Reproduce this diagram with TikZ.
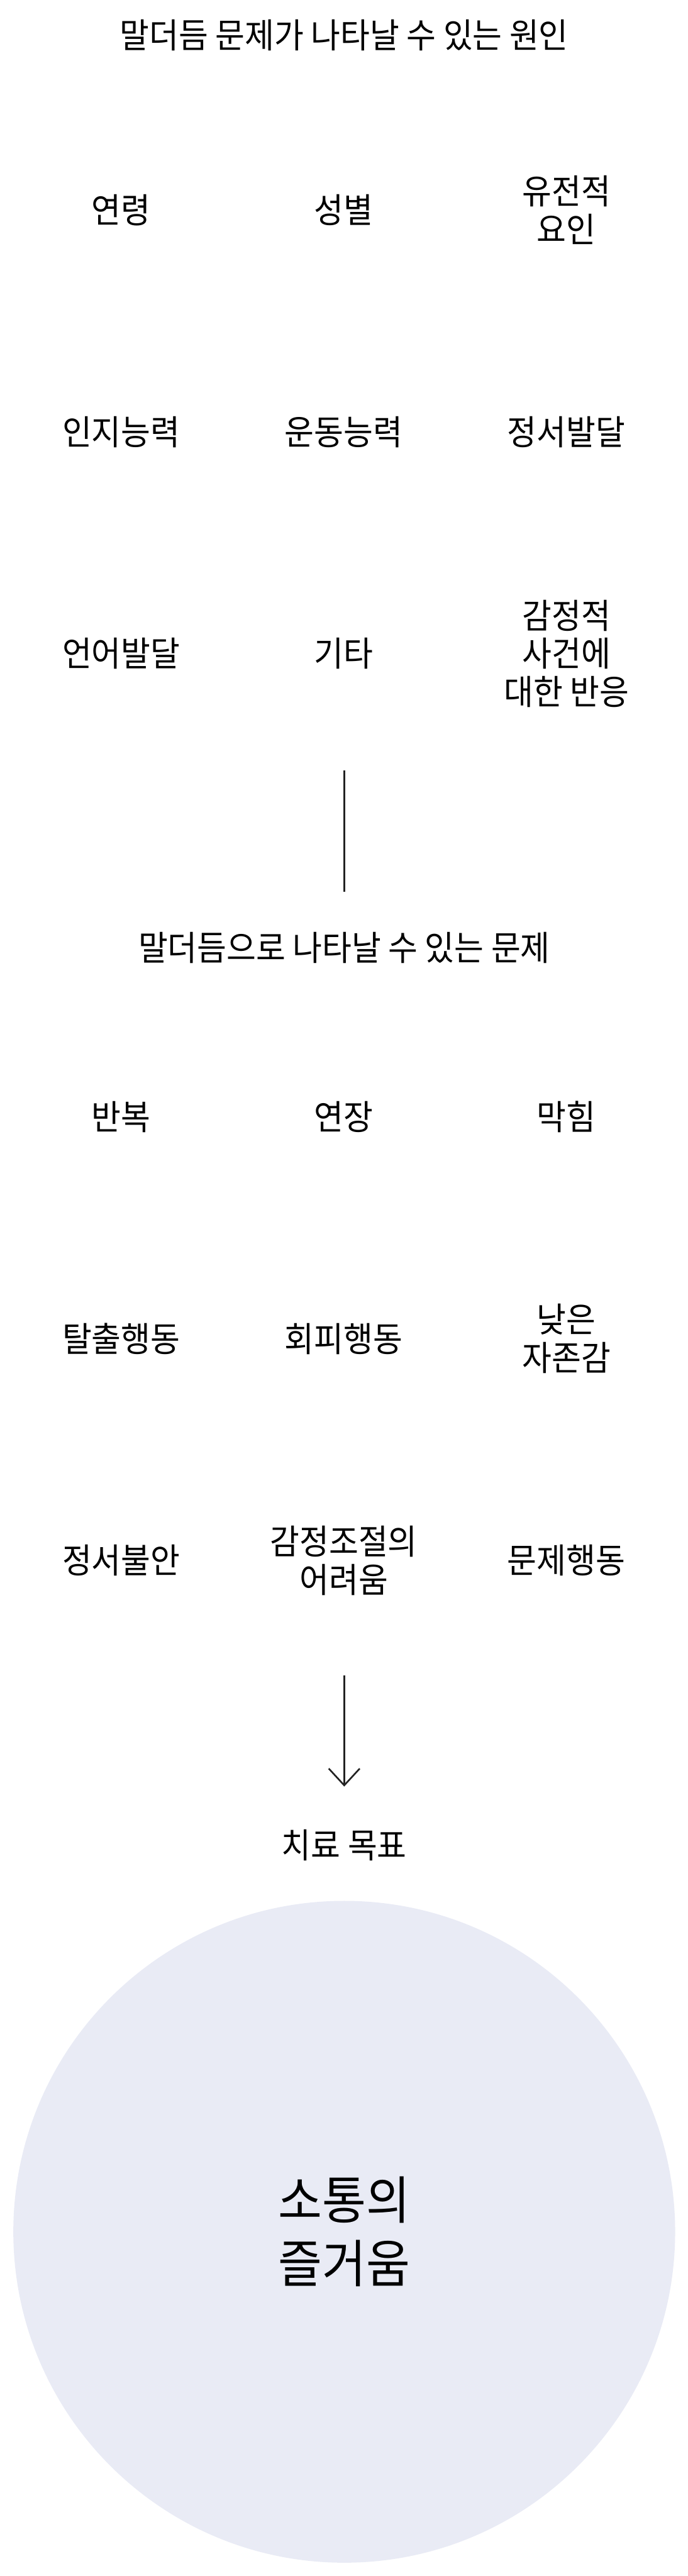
\documentclass[tikz,border=0pt]{standalone}
\usepackage{fontspec}
\setmainfont{Noto Sans CJK KR}[FakeStretch=0.93]
\usetikzlibrary{positioning,arrows.meta}
\definecolor{goalbg}{HTML}{E9EBF5}
\definecolor{linkgray}{HTML}{222222}
\tikzset{
  lbl/.style={align=center, inner sep=0pt, font=\fontsize{22.8}{25.3}\selectfont},
  link/.style={draw=linkgray, line width=1.1pt},
  goal/.style={circle, fill=goalbg, minimum size=15.4cm, inner sep=0pt, align=center,
    font=\fontsize{34}{42}\selectfont}
}

\begin{document}
\begin{tikzpicture}
  \useasboundingbox (0,0) rectangle (16,-59.94);

  % Causes
  \node[lbl] (causeTitle) at (8.01,-0.815) {말더듬 문제가 나타날 수 있는 원인};
  \foreach \txt [count=\i from 0] in {연령, 성별, {유전적\\요인}, 인지능력, 운동능력, 정서발달,
      언어발달, 기타, {감정적\\사건에\\대한 반응}} {
    \pgfmathtruncatemacro{\col}{mod(\i,3)}
    \pgfmathtruncatemacro{\row}{div(\i,3)}
    \node[lbl] (cause\i) at ({2.82+5.18*\col}, {-4.89-5.16*\row}) {\txt};
  }

  % Link to problems
  \coordinate (linkTop) at (8.01,-17.93);
  \coordinate (linkBot) at (8.01,-20.75);
  \draw[link] (linkTop) -- (linkBot);

  % Problems
  \node[lbl] (probTitle) at (8.01,-22.05) {말더듬으로 나타날 수 있는 문제};
  \foreach \txt [count=\i from 0] in {반복, 연장, 막힘, 탈출행동, 회피행동, {낮은\\자존감},
      정서불안, {감정조절의\\어려움}, 문제행동} {
    \pgfmathtruncatemacro{\col}{mod(\i,3)}
    \pgfmathtruncatemacro{\row}{div(\i,3)}
    \node[lbl] (prob\i) at ({2.82+5.18*\col}, {-25.99-5.16*\row}) {\txt};
  }

  % Arrow to goal
  \coordinate (arrowTop) at (8.01,-38.99);
  \coordinate (arrowTip) at (8.01,-41.57);
  \draw[link, -{Straight Barb[length=0.39cm, width=0.72cm]}] (arrowTop) -- (arrowTip);

  % Goal
  \node[lbl] (goalTitle) at (8.01,-42.93) {치료 목표};
  \node[goal] (goal) at (8.01,-51.93) {소통의\\즐거움};
\end{tikzpicture}
\end{document}
